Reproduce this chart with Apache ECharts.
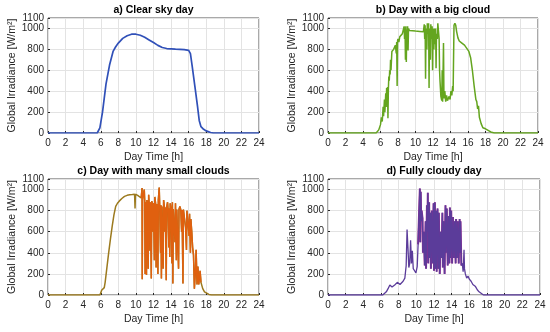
<!DOCTYPE html>
<html><head><meta charset="utf-8">
<script src="https://cdn.jsdelivr.net/npm/echarts@6/dist/echarts.min.js"></script>
<style>html,body{margin:0;padding:0;background:#fff}#c{width:550px;height:332px}</style>
</head><body><div id="c"></div>
<script>
// ---- data: [hour, W/m2] ----
const titles = ['a) Clear sky day','b) Day with a big cloud','c) Day with many small clouds','d) Fully cloudy day'];
const xTicksMax = 24;
const yMax = 1100;

const clearSky = [[0,0],[5.6,0],[5.9,50],[6.2,200],[6.6,470],[7.0,650],[7.4,780],[7.7,825],[8.0,860],[8.5,905],[9.0,930],[9.5,945],[10,945],[10.5,935],[11,915],[11.5,890],[12,865],[12.5,838],[13,818],[13.5,808],[14,805],[14.5,802],[15,800],[15.5,797],[16.0,790],[16.2,760],[16.4,640],[16.7,450],[17.0,260],[17.2,120],[17.4,60],[17.7,35],[18,20],[18.5,5],[18.8,0],[24,0]];

const bigCloud = [[0,0],[5.5,0],[5.8,30],[6.0,80],[6.1,150],[6.2,110],[6.3,250],[6.35,160],[6.45,320],[6.5,200],[6.6,380],[6.65,250],[6.7,430],[6.75,300],[6.8,440],[6.85,140],[6.9,420],[6.95,540],[7.0,500],[7.05,600],[7.1,560],[7.15,700],[7.2,600],[7.3,780],[7.4,790],[7.5,800],[7.6,820],[7.7,840],[7.8,760],[7.85,870],[7.9,450],[7.95,880],[8.0,900],[8.1,870],[8.2,920],[8.3,930],[8.5,950],[8.6,960],[8.7,1020],[8.75,900],[8.8,1010],[8.85,700],[8.9,1020],[8.95,680],[9.0,990],[9.05,800],[9.1,1020],[9.15,790],[9.2,1000],[9.3,980],[9.5,975],[10,975],[10.5,972],[10.9,968],[11.0,1040],[11.05,900],[11.1,1030],[11.15,520],[11.2,1000],[11.3,800],[11.35,1050],[11.45,950],[11.5,1050],[11.55,430],[11.6,1000],[11.7,700],[11.75,1040],[11.8,900],[11.9,1020],[11.95,600],[12.0,1000],[12.1,800],[12.15,1000],[12.2,850],[12.3,1000],[12.35,620],[12.4,950],[12.5,900],[12.55,1050],[12.6,1000],[12.7,900],[12.75,600],[12.8,500],[12.9,350],[13.0,310],[13.05,600],[13.1,300],[13.2,860],[13.25,330],[13.35,400],[13.45,300],[13.55,360],[13.65,310],[13.75,300],[13.85,350],[13.95,320],[14.05,400],[14.15,360],[14.25,450],[14.3,400],[14.4,1030],[14.5,1050],[14.6,1030],[14.7,970],[14.85,910],[15.0,880],[15.3,860],[15.6,840],[15.9,805],[16.1,780],[16.3,720],[16.5,600],[16.7,450],[16.9,320],[17.0,300],[17.1,230],[17.2,260],[17.3,150],[17.5,90],[17.7,50],[18,40],[18.3,25],[18.6,10],[19,0],[24,0]];

const smallClouds = [[0,0],[5.9,0],[6.0,20],[6.1,45],[6.2,50],[6.3,40],[6.4,70],[6.5,120],[6.7,260],[6.9,400],[7.1,530],[7.3,650],[7.5,760],[7.7,840],[7.9,870],[8.1,890],[8.4,915],[8.7,935],[9.0,945],[9.3,950],[9.6,952],[9.85,955],[9.9,820],[9.95,955],[10.2,945],[10.4,930],[10.6,920],[10.65,930],[10.7,1015],[10.72,150],[10.76,910],[10.85,900],[10.95,1000],[11.0,890],[11.05,200],[11.1,880],[11.2,190],[11.25,900],[11.3,880],[11.4,250],[11.45,950],[11.5,870],[11.6,420],[11.65,880],[11.75,156],[11.8,890],[11.9,860],[11.95,600],[12.0,870],[12.1,330],[12.15,930],[12.25,860],[12.3,260],[12.35,860],[12.45,840],[12.5,200],[12.55,900],[12.65,1020],[12.7,860],[12.8,400],[12.85,850],[12.9,156],[12.95,840],[13.05,830],[13.1,250],[13.15,900],[13.25,830],[13.3,600],[13.35,830],[13.45,140],[13.5,830],[13.6,880],[13.65,820],[13.75,450],[13.8,820],[13.85,360],[13.9,870],[14.0,815],[14.1,300],[14.15,880],[14.2,108],[14.25,815],[14.35,810],[14.45,500],[14.5,870],[14.6,330],[14.65,810],[14.8,810],[14.85,250],[14.9,812],[15.0,840],[15.1,810],[15.2,600],[15.25,805],[15.35,108],[15.4,810],[15.55,800],[15.65,640],[15.75,427],[15.8,800],[15.95,790],[16.05,560],[16.1,770],[16.2,400],[16.25,720],[16.35,600],[16.45,450],[16.55,380],[16.65,60],[16.75,200],[16.85,430],[16.95,100],[17.05,270],[17.15,100],[17.25,108],[17.3,230],[17.4,120],[17.6,60],[17.8,30],[18.0,15],[18.3,5],[18.6,0],[24,0]];

const fullyCloudy = [[0,0],[6.2,0],[6.4,10],[6.6,30],[6.8,60],[7.0,95],[7.1,85],[7.25,75],[7.4,85],[7.55,95],[7.7,110],[7.85,120],[8.0,110],[8.15,100],[8.3,110],[8.5,130],[8.7,160],[8.85,280],[8.95,620],[9.05,450],[9.15,260],[9.25,300],[9.35,520],[9.45,300],[9.55,420],[9.65,250],[9.8,230],[9.95,210],[10.1,270],[10.2,480],[10.3,750],[10.4,1010],[10.45,500],[10.5,980],[10.55,700],[10.6,800],[10.7,730],[10.75,400],[10.85,600],[10.95,280],[11.05,700],[11.1,250],[11.2,850],[11.25,600],[11.3,970],[11.35,300],[11.45,880],[11.5,350],[11.6,780],[11.65,250],[11.75,800],[11.85,300],[11.95,870],[12.0,230],[12.1,880],[12.15,250],[12.25,800],[12.3,220],[12.4,820],[12.5,250],[12.55,780],[12.65,200],[12.75,600],[12.85,350],[12.95,780],[13.0,260],[13.1,700],[13.2,200],[13.3,850],[13.35,400],[13.45,820],[13.55,280],[13.65,750],[13.75,300],[13.8,830],[13.85,350],[13.95,800],[14.05,300],[14.15,740],[14.25,350],[14.35,700],[14.45,300],[14.5,720],[14.6,350],[14.7,700],[14.8,300],[14.9,720],[14.95,400],[15.0,700],[15.1,280],[15.2,300],[15.3,220],[15.4,430],[15.45,250],[15.55,200],[15.7,160],[15.85,180],[16.0,150],[16.2,130],[16.4,100],[16.55,110],[16.7,80],[16.9,50],[17.1,30],[17.3,15],[17.6,0],[24,0]];

// ---- chart ----
const FONT = 'Liberation Sans, Arial, Helvetica, sans-serif';
const grids = [
  {left:48, right:291, top:18, bottom:199},
  {left:328, right:12, top:18, bottom:199},
  {left:48, right:291, top:179, bottom:37},
  {left:328, right:10, top:179, bottom:37}
];
const titleTops = [5, 5, 166, 166];
const chart = echarts.init(document.getElementById('c'), null, {renderer:'canvas'});
const range = (arr, a, b) => arr.filter(p => p[0] >= a && p[0] <= b);

const option = {
  animation:false,
  backgroundColor:'#fff',
  textStyle:{fontFamily:FONT},
  title: titles.map((t,i)=>({
    text:t, left:(grids[i].left + (550-grids[i].right))/2, top:titleTops[i], textAlign:'center', padding:0,
    textStyle:{fontSize:10.5, fontWeight:'bold', color:'#000', fontFamily:FONT}
  })),
  grid: grids.map(g=>Object.assign({show:true, borderColor:'#262626', borderWidth:0.8, backgroundColor:'#fff'}, g)),
  xAxis: grids.map((g,i)=>({
    gridIndex:i, type:'value', min:0, max:xTicksMax, interval:2,
    name:'Day Time [h]', nameLocation:'middle', nameGap:19,
    nameTextStyle:{fontSize:10.5, color:'#262626', fontFamily:FONT},
    axisLine:{show:false}, axisTick:{show:true, inside:true, length:2, lineStyle:{color:'#262626'}},
    axisLabel:{fontSize:10, color:'#262626', margin:5, fontFamily:FONT, formatter:v=>String(v)},
    splitLine:{show:true, lineStyle:{color:'#e3e3e3', width:1}}
  })),
  yAxis: grids.map((g,i)=>({
    gridIndex:i, type:'value', min:0, max:yMax, interval:200,
    name:'Global Irradiance [W/m²]', nameLocation:'middle', nameGap:28,
    nameTextStyle:{fontSize:10.5, color:'#262626', fontFamily:FONT},
    axisLine:{show:false}, axisTick:{show:true, inside:true, length:2, lineStyle:{color:'#262626'}},
    axisLabel:{fontSize:10, color:'#262626', margin:4, fontFamily:FONT, formatter:v=>String(v)},
    splitLine:{show:true, lineStyle:{color:'#e3e3e3', width:1}}
  })),
  series: [
    {type:'line', xAxisIndex:0, yAxisIndex:0, data:clearSky, showSymbol:false, lineStyle:{color:'#3050b8', width:1.7}},
    {type:'line', xAxisIndex:1, yAxisIndex:1, data:bigCloud, showSymbol:false, lineStyle:{color:'#64a51f', width:1.5}},
    {type:'line', xAxisIndex:2, yAxisIndex:2, data:smallClouds, showSymbol:false, lineStyle:{color:'#9c7a1e', width:1.5}},
    {type:'line', xAxisIndex:2, yAxisIndex:2, data:range(smallClouds,10.6,17.4), showSymbol:false, lineStyle:{color:'#e0600f', width:1.4}},
    {type:'line', xAxisIndex:3, yAxisIndex:3, data:range(fullyCloudy,10.2,15.2), showSymbol:false, lineStyle:{color:'#952a8f', width:2}},
    {type:'line', xAxisIndex:3, yAxisIndex:3, data:fullyCloudy, showSymbol:false, lineStyle:{color:'#5b3c9a', width:1.3}}
  ]
};
chart.setOption(option);
</script></body></html>
